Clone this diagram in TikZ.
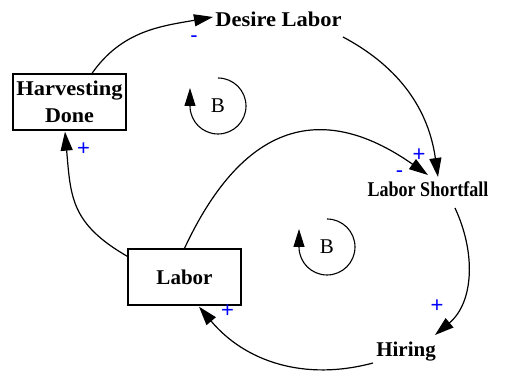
\documentclass[tikz,border=0pt]{standalone}
\usepackage{fontspec}
\setmainfont{Liberation Serif}
\newfontfamily\polfont{Liberation Sans}
\usetikzlibrary{arrows.meta}
\newcommand{\sx}[2]{\scalebox{#1}[1]{#2}}
\begin{document}
\begin{tikzpicture}[x=1pt,y=1pt,
  lbl/.style={font=\fontsize{21}{27}\selectfont\bfseries, inner sep=0pt},
  stock/.style={draw, line width=1.3pt, minimum width=113pt, minimum height=56pt, inner sep=0pt, align=center, font=\fontsize{21}{27}\selectfont\bfseries},
  link/.style={line width=1.2pt, -{Triangle[length=19pt,width=12pt]}},
  pol/.style={text=blue, font=\polfont\fontsize{22}{22}\selectfont, inner sep=0pt},
  loopb/.style={line width=1.1pt, -{Triangle[length=18pt,width=11pt]}},
  bl/.style={font=\fontsize{21}{21}\selectfont, inner sep=0pt}]
\useasboundingbox (0,0) rectangle (517,371);
\fill[white] (0,0) rectangle (517,371);
% nodes
\node[stock] (hd) at (69.5,269) {\sx{1.07}{Harvesting}\\\sx{1.05}{Done}};
\node[stock] (labor) at (184.5,94) {Labor};
\node[lbl, anchor=base] (desire) at (278.5,344) {\sx{1.07}{Desire Labor}};
\node[lbl, anchor=base] (short) at (428,174) {\sx{0.86}{Labor Shortfall}};
\node[lbl, anchor=base] (hiring) at (406,14) {Hiring};
% connectors
\draw[link] ([xshift=22.5]hd.north) to[out=55,in=190] ([xshift=-65.5,yshift=10]desire.base);
\draw[link] ([xshift=64.5,yshift=-10]desire.base) to[out=-28,in=98] ([xshift=10,yshift=20]short.base);
\draw[link] (labor.north) to[out=65,in=145,looseness=1.35] ([yshift=22]short.base);
\draw[link] ([xshift=27,yshift=-11]short.base) to[out=-65,in=40] ([xshift=29,yshift=22]hiring.base);
\draw[link] ([xshift=-33,yshift=-6]hiring.base) to[out=195,in=-50] ([xshift=14.5,yshift=-1]labor.south);
\draw[link] ([yshift=-8]labor.north west) to[out=150,in=-85,looseness=1.2] ([xshift=-4.5,yshift=-1]hd.south);
% polarities
\node[pol] (p1) at (194,332) {-};
\node[pol] (p2) at (83.5,221.5) {+};
\node[pol] (p3) at (419,216) {+};
\node[pol] (p4) at (399.5,196.5) {-};
\node[pol] (p5) at (437,64.5) {+};
\node[pol] (p6) at (227.5,60) {+};
% loops
\node[bl] (b1) at (218,265) {B};
\draw[loopb] ([shift={(90:28)}]b1.center) arc[start angle=90, end angle=-180, radius=28] -- ++(0,18);
\node[bl] (b2) at (327,124) {B};
\draw[loopb] ([shift={(90:28)}]b2.center) arc[start angle=90, end angle=-180, radius=28] -- ++(0,18);
\end{tikzpicture}
\end{document}
